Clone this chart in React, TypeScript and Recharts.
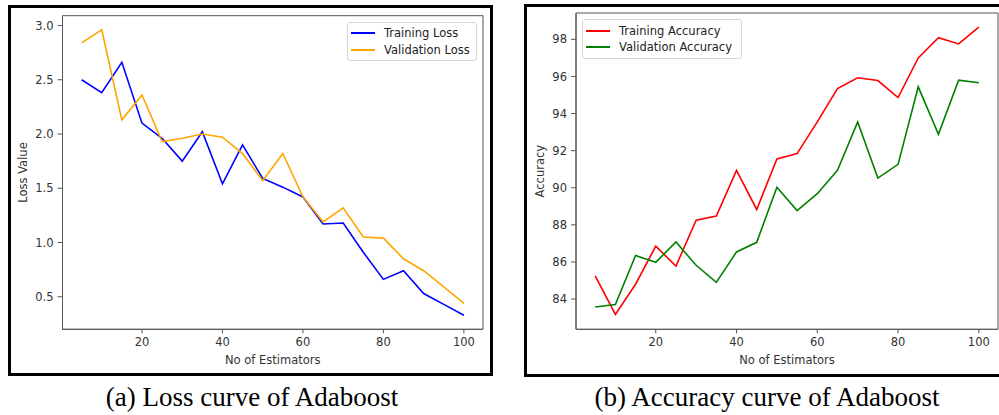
import { Legend, Line, LineChart, ReferenceArea, XAxis, YAxis } from "recharts";

// number of estimators (x values shared by both panels)
const estimators = [5, 10, 15, 20, 25, 30, 35, 40, 45, 50, 55, 60, 65, 70, 75, 80, 85, 90, 95, 100];

const trainLoss = [2.5, 2.38, 2.66, 2.1, 1.96, 1.75, 2.02, 1.54, 1.9, 1.59, 1.51, 1.42, 1.17, 1.18, 0.91, 0.66, 0.74, 0.53, 0.43, 0.33];
const valLoss = [2.84, 2.96, 2.13, 2.36, 1.93, 1.96, 2.0, 1.97, 1.82, 1.57, 1.82, 1.42, 1.19, 1.32, 1.05, 1.04, 0.85, 0.74, 0.59, 0.44];

const trainAcc = [85.25, 83.17, 84.8, 86.85, 85.78, 88.25, 88.47, 90.94, 88.83, 91.55, 91.84, 93.55, 95.35, 95.93, 95.78, 94.86, 97.0, 98.09, 97.75, 98.66];
const valAcc = [83.57, 83.71, 86.35, 85.98, 87.08, 85.82, 84.9, 86.54, 87.06, 90.03, 88.77, 89.68, 90.94, 93.55, 90.52, 91.26, 95.44, 92.88, 95.8, 95.66];

const xTicks = [20, 40, 60, 80, 100];
const lossTicks = [0.5, 1.0, 1.5, 2.0, 2.5, 3.0];
const accTicks = [84, 86, 88, 90, 92, 94, 96, 98];

const X_DOMAIN: [number, number] = [0.25, 104.75];
const LOSS_DOMAIN: [number, number] = [0.2, 3.09];
const ACC_DOMAIN: [number, number] = [82.37, 99.42];

const lossData = estimators.map((n, i) => ({ n, train: trainLoss[i], val: valLoss[i] }));
const accData = estimators.map((n, i) => ({ n, train: trainAcc[i], val: valAcc[i] }));

const FONT = "DejaVu Sans, sans-serif";
const FS = 11.5;
const SPINE = "#555";
const tickStyle = { fill: "#333", fontSize: FS, fontFamily: FONT };
const labelStyle = { fill: "#333", fontSize: FS, fontFamily: FONT, textAnchor: "middle" as const };

function MplLegend({ payload, sampleGap }: any) {
  return (
    <div
      style={{
        border: "1px solid #d6d6d6",
        borderRadius: 3,
        background: "rgba(255,255,255,0.85)",
        padding: "2px 4px 2px 3px",
        fontFamily: FONT,
        fontSize: FS,
        color: "#222",
        boxSizing: "border-box",
      }}
    >
      {(payload || []).map((p: any) => (
        <div key={p.value} style={{ display: "flex", alignItems: "center", height: 16.8, whiteSpace: "nowrap" }}>
          <span style={{ display: "inline-block", width: 24, borderTop: `2px solid ${p.color}`, marginRight: sampleGap }} />
          {p.value}
        </div>
      ))}
    </div>
  );
}

function Panel(props: {
  data: any[];
  width: number;
  height: number;
  margin: { top: number; right: number; bottom: number; left: number };
  yDomain: [number, number];
  yTicks: number[];
  yFmt: (v: number) => string;
  yLabel: string;
  yLabelOffset: number;
  names: [string, string];
  colors: [string, string];
  legendPos: { left: number; top: number; width: number };
}) {
  const { data, yDomain, names, colors } = props;
  return (
    <LineChart width={props.width} height={props.height} data={data} margin={props.margin}>
      <ReferenceArea
        x1={X_DOMAIN[0]}
        x2={X_DOMAIN[1]}
        y1={yDomain[0]}
        y2={yDomain[1]}
        fill="none"
        stroke={SPINE}
        strokeWidth={1}
      />
      <XAxis
        dataKey="n"
        type="number"
        domain={X_DOMAIN}
        ticks={xTicks}
        height={40}
        tickSize={4}
        tickMargin={5}
        axisLine={{ stroke: SPINE }}
        tickLine={{ stroke: SPINE }}
        tick={tickStyle}
        label={{ value: "No of Estimators", position: "insideBottom", offset: 5, style: labelStyle }}
      />
      <YAxis
        type="number"
        domain={yDomain}
        ticks={props.yTicks}
        tickFormatter={props.yFmt}
        width={40}
        tickSize={5}
        tickMargin={4}
        axisLine={{ stroke: SPINE }}
        tickLine={{ stroke: SPINE }}
        tick={tickStyle}
        label={{ value: props.yLabel, angle: -90, position: "insideLeft", offset: props.yLabelOffset, style: labelStyle }}
      />
      <Legend
        layout="vertical"
        align="center"
        verticalAlign="middle"
        content={(p: any) => <MplLegend payload={p.payload} sampleGap={9} />}
        wrapperStyle={{ position: "absolute", left: props.legendPos.left, top: props.legendPos.top, width: props.legendPos.width, height: "auto" }}
      />
      <Line type="linear" dataKey="train" name={names[0]} stroke={colors[0]} strokeWidth={1.6} dot={false} isAnimationActive={false} />
      <Line type="linear" dataKey="val" name={names[1]} stroke={colors[1]} strokeWidth={1.6} dot={false} isAnimationActive={false} />
    </LineChart>
  );
}

export default function App() {
  return (
    <div
      style={{
        position: "fixed",
        left: 0,
        top: 0,
        width: 999,
        height: 415,
        overflow: "hidden",
        background: "#fff",
      }}
    >
      {/* panel frames */}
      <div style={{ position: "absolute", left: 8, top: 5, width: 485, height: 371, border: "3px solid #000", boxSizing: "border-box" }} />
      <div style={{ position: "absolute", left: 524, top: 4, width: 490, height: 373, border: "3px solid #000", boxSizing: "border-box" }} />

      <div style={{ position: "absolute", left: 0, top: 0 }}>
        <Panel
          data={lossData}
          width={493}
          height={376}
          margin={{ top: 15.7, right: 10, bottom: 6.7, left: 22.5 }}
          yDomain={LOSS_DOMAIN}
          yTicks={lossTicks}
          yFmt={(v) => v.toFixed(1)}
          yLabel="Loss Value"
          yLabelOffset={0.5}
          names={["Training Loss", "Validation Loss"]}
          colors={["#0000ff", "#ffa500"]}
          legendPos={{ left: 347, top: 21.7, width: 130 }}
        />
      </div>

      <div style={{ position: "absolute", left: 520, top: 0 }}>
        <Panel
          data={accData}
          width={479}
          height={376}
          margin={{ top: 13, right: 1, bottom: 6.7, left: 16 }}
          yDomain={ACC_DOMAIN}
          yTicks={accTicks}
          yFmt={(v) => String(v)}
          yLabel="Accuracy"
          yLabelOffset={4.3}
          names={["Training Accuracy", "Validation Accuracy"]}
          colors={["#ff0000", "#008000"]}
          legendPos={{ left: 62, top: 19.3, width: 160 }}
        />
      </div>

      <svg width={999} height={415} style={{ position: "absolute", left: 0, top: 0, pointerEvents: "none" }}>
        <text x={252} y={406} textAnchor="middle" fontFamily="Liberation Serif, Times New Roman, serif" fontSize={27} fill="#000">
          (a) Loss curve of Adaboost
        </text>
        <text x={767} y={406} textAnchor="middle" fontFamily="Liberation Serif, Times New Roman, serif" fontSize={27} fill="#000">
          (b) Accuracy curve of Adaboost
        </text>
      </svg>
    </div>
  );
}
